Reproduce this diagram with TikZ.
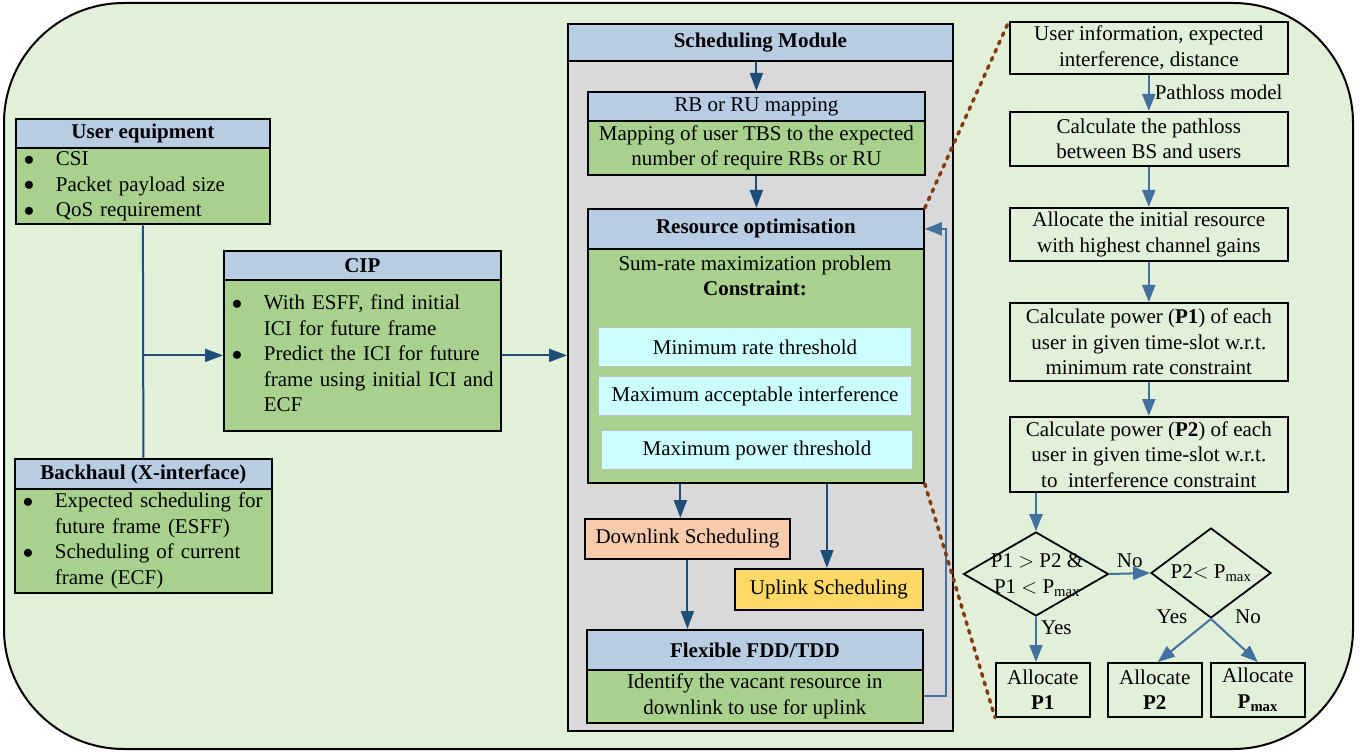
\documentclass[tikz,border=0pt]{standalone}
\usepackage{fontspec}
\setmainfont{Liberation Serif}
\usetikzlibrary{arrows.meta,shapes.geometric,calc}
\definecolor{bg}{RGB}{226,239,217}
\definecolor{hblue}{RGB}{184,204,228}
\definecolor{bgreen}{RGB}{169,209,142}
\definecolor{peach}{RGB}{248,203,173}
\definecolor{yel}{RGB}{255,217,102}
\definecolor{cyanb}{RGB}{204,255,255}
\definecolor{grayb}{RGB}{217,217,217}
\definecolor{dblue}{RGB}{31,78,121}
\definecolor{lblue}{RGB}{65,113,156}
\definecolor{brn}{RGB}{132,60,12}
\newcommand{\bdot}{\raisebox{0.5pt}{$\bullet$}}
\begin{document}
\begin{tikzpicture}[x=1pt,y=-1pt,font=\fontsize{21}{25.5}\selectfont,
  box/.style={draw, line width=1.8pt, inner sep=0pt, anchor=north west, align=center},
  hdr/.style={box, fill=hblue},
  bdy/.style={box, fill=bgreen},
  bul/.style={bdy, align=left, inner xsep=8pt},
  cbox/.style={draw=black!25, line width=1pt, fill=cyanb, inner sep=0pt, anchor=north west, align=center},
  rbox/.style={box, fill=bg, line width=1.6pt},
  dia/.style={diamond, draw, line width=1.8pt, inner sep=0pt, fill=bg},
  lbl/.style={inner sep=0pt},
  darr/.style={draw=dblue, line width=2pt, -{Triangle[length=18pt,width=13pt]}},
  larr/.style={draw=lblue, line width=2pt, -{Triangle[length=17pt,width=13pt]}},
  dline/.style={draw=dblue, line width=2pt},
  dots/.style={draw=brn, line width=3.5pt, dash pattern=on 3pt off 6pt, line cap=round}]
\useasboundingbox (0,0) rectangle (1369,754);
\draw[fill=bg, line width=2pt, rounded corners=120pt] (4,3) rectangle (1353,749);

% left column
\node[hdr, minimum width=254pt, minimum height=29pt] (ueh) at (15,118) {\textbf{User equipment}};
\node[bul, minimum width=254pt, minimum height=76pt, text width=238pt] (ueb) at (15,147)
  {\begin{tabular}{@{}p{32pt}@{}l@{}}\bdot & CSI\\ \bdot & Packet payload size\\ \bdot & QoS requirement\end{tabular}};
\node[hdr, minimum width=277pt, minimum height=29pt] (cih) at (223,250) {\textbf{CIP}};
\node[bul, minimum width=277pt, minimum height=151pt, text width=261pt] (cib) at (223,279)
  {\begin{tabular}{@{}p{32pt}@{}l@{}}\bdot & With ESFF, find initial\\ & ICI for future frame\\ \bdot & Predict the ICI for future\\ & frame using initial ICI and\\ & ECF\end{tabular}};
\node[hdr, minimum width=257pt, minimum height=30pt] (bhh) at (14,458) {\textbf{Backhaul (X-interface)}};
\node[bul, minimum width=257pt, minimum height=104pt, text width=241pt] (bhb) at (14,488)
  {\begin{tabular}{@{}p{32pt}@{}l@{}}\bdot & Expected scheduling for\\ & future frame (ESFF)\\ \bdot & Scheduling of current\\ & frame (ECF)\end{tabular}};

% scheduling module
\node[hdr, minimum width=385pt, minimum height=37pt] (smh) at (567,23) {\textbf{Scheduling Module}};
\node[box, fill=grayb, minimum width=385pt, minimum height=670pt] (smb) at (567,60) {};
\node[hdr, minimum width=337pt, minimum height=29pt] (rbh) at (587,91) {RB or RU mapping};
\node[bdy, minimum width=337pt, minimum height=54pt] (rbb) at (587,120) {Mapping of user TBS to the expected\\number of require RBs or RU};
\node[hdr, minimum width=336pt, minimum height=40pt] (roh) at (587,208) {\textbf{Resource optimisation}};
\node[bdy, minimum width=336pt, minimum height=234pt] (rob) at (587,248) {};
\node[lbl, align=center] (rot) at (755,276) {Sum-rate maximization problem\\\textbf{Constraint:}};
\node[cbox, minimum width=313pt, minimum height=39pt] (c1) at (598,327) {Minimum rate threshold};
\node[cbox, minimum width=313pt, minimum height=39pt] (c2) at (598,376) {Maximum acceptable interference};
\node[cbox, minimum width=311pt, minimum height=39pt] (c3) at (601,430) {Maximum power threshold};
\node[box, fill=peach, minimum width=205pt, minimum height=40pt] (dl) at (584,518) {Downlink Scheduling};
\node[box, fill=yel, minimum width=188pt, minimum height=41pt] (ul) at (734,568) {Uplink Scheduling};
\node[hdr, minimum width=336pt, minimum height=40pt] (fh) at (586,629) {\textbf{Flexible FDD/TDD}};
\node[bdy, minimum width=336pt, minimum height=53pt] (fb) at (586,669) {Identify the vacant resource in\\downlink to use for uplink};

% right column
\node[rbox, minimum width=278pt, minimum height=52pt] (b1) at (1009,21) {User information, expected\\interference, distance};
\node[rbox, minimum width=278pt, minimum height=54pt] (b2) at (1009,111) {Calculate the pathloss\\between BS and users};
\node[rbox, minimum width=278pt, minimum height=53pt] (b3) at (1009,207) {Allocate the initial resource\\with highest channel gains};
\node[rbox, minimum width=278pt, minimum height=78pt] (b4) at (1009,302) {Calculate power (\textbf{P1}) of each\\user in given time-slot w.r.t.\\minimum rate constraint};
\node[rbox, minimum width=278pt, minimum height=75pt] (b5) at (1009,416) {Calculate power (\textbf{P2}) of each\\user in given time-slot w.r.t.\\to~\ interference constraint};
\node[dia, minimum width=145pt, minimum height=84pt] (d1) at (1036,574) {};
\node[lbl, align=center] (d1t) at (1037,575) {P1 $>$ P2 \&\\P1 $<$ P\textsubscript{max}};
\node[dia, minimum width=120pt, minimum height=90pt] (d2) at (1211,573) {};
\node[lbl] (d2t) at (1211,573) {P2$<$ P\textsubscript{max}};
\node[rbox, minimum width=94pt, minimum height=54pt] (a1) at (995,662) {Allocate\\\textbf{P1}};
\node[rbox, minimum width=94pt, minimum height=54pt] (a2) at (1107,662) {Allocate\\\textbf{P2}};
\node[rbox, minimum width=94pt, minimum height=54pt] (a3) at (1210,662) {Allocate\\\textbf{P\textsubscript{max}}};

% left connectors
\draw[dline] (ueb.south) -- (bhh.north);
\draw[darr] (ueb.south |- cib.west) -- (cib.west);
\draw[darr] (cib.east) -- (smb.west |- cib.east);

% scheduling connectors
\draw[darr] (rbh.north |- smh.south) -- (rbh.north);
\draw[darr] (rbb.south) -- (rbb.south |- roh.north);
\draw[darr] ([xshift=-7pt]dl.north |- rob.south) -- ([xshift=-7pt]dl.north);
\draw[darr] ([xshift=-2pt]ul.north |- rob.south) -- ([xshift=-2pt]ul.north);
\draw[darr] (dl.south) -- (dl.south |- fh.north);
\draw[larr] (fb.east) -- ++(22,0) |- (roh.east);

% right connectors
\draw[larr] (b1.south) -- node[right, inner sep=5pt] (plm) {Pathloss model} (b2.north);
\draw[larr] (b2.south) -- (b3.north);
\draw[larr] (b3.south) -- (b4.north);
\draw[larr] (b4.south) -- (b5.north);
\draw[larr] (d1.north |- b5.south) -- (d1.north);
\draw[larr] (d1.east) -- node[above, inner sep=5pt] (no1) {No} (d2.west);
\draw[larr] (d1.south) -- node[right, pos=0.25, inner sep=4pt] (yes1) {Yes} (d1.south |- a1.north);
\draw[larr] (d2.south) -- ([xshift=3pt]a2.north);
\draw[larr] (d2.south) -- (a3.north);
\node[lbl] (yes2) at (1172,617) {Yes};
\node[lbl] (no2) at (1248,617) {No};

% zoom lines
\draw[dots] (roh.north east) -- (b1.north west);
\draw[dots] (rob.south east) -- (a1.south west);
\end{tikzpicture}
\end{document}
